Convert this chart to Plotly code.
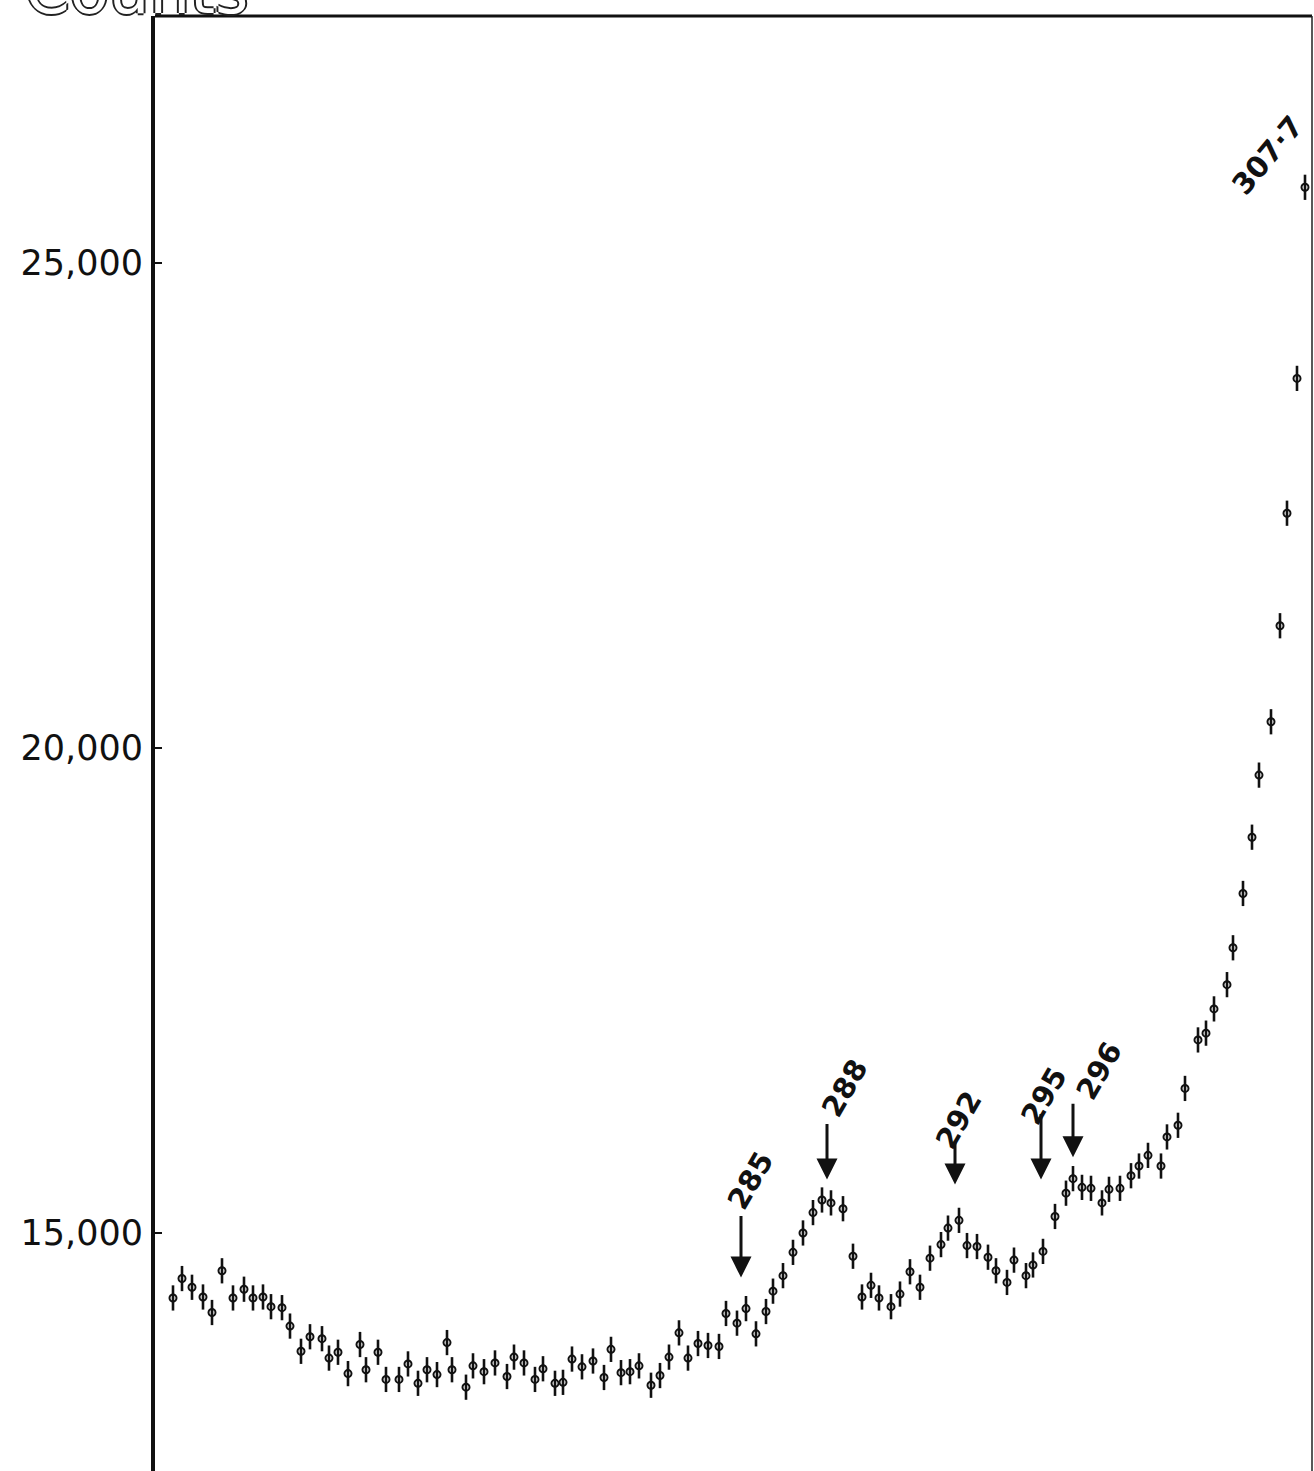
import plotly.graph_objects as go

# Scan position (arbitrary chart units) and measured counts
position = [
    1.8, 2.7, 3.7, 4.8, 5.7, 6.7, 7.8, 8.9, 9.8, 10.8, 11.6, 12.7, 13.5, 14.6, 15.5,
    16.7, 17.4, 18.3, 19.3, 20.5, 21.1, 22.3, 23.1, 24.4, 25.3, 26.3, 27.2, 28.2, 29.2,
    29.7, 31.1, 31.8, 32.9, 34.0, 35.2, 35.9, 36.9, 38.0, 38.8, 40.0, 40.8, 41.7, 42.7,
    43.8, 44.9, 45.6, 46.6, 47.5, 48.4, 49.6, 50.5, 51.4, 52.4, 53.3, 54.3, 55.3, 56.4,
    57.1, 58.2, 59.1, 60.1, 61.1, 61.8, 62.8, 63.8, 64.8, 65.8, 66.7, 67.6, 68.8, 69.8,
    70.7, 71.6, 72.4, 73.6, 74.5, 75.5, 76.5, 77.5, 78.6, 79.3, 80.4, 81.2, 82.2, 83.3,
    84.1, 85.2, 85.9, 87.1, 87.8, 88.8, 90.0, 91.1, 91.8, 92.7, 93.6, 94.7, 95.4, 96.5,
    97.6, 98.4, 99.3, 100.6, 101.2, 102.3, 103.0, 104.3, 105.1, 105.9, 107.2, 107.8,
    108.8, 109.7, 110.4, 111.6, 112.5, 113.2, 114.2, 115.0,
]
counts = [
    14330, 14530, 14440, 14340, 14180, 14610, 14330, 14420, 14330, 14340, 14240, 14230,
    14040, 13780, 13930, 13910, 13710, 13770, 13550, 13850, 13590, 13770, 13490, 13490,
    13650, 13450, 13590, 13540, 13870, 13590, 13410, 13630, 13570, 13660, 13520, 13720,
    13660, 13490, 13600, 13450, 13460, 13700, 13620, 13680, 13510, 13800, 13560, 13570,
    13630, 13430, 13530, 13720, 13970, 13710, 13860, 13840, 13830, 14170, 14070, 14220,
    13960, 14190, 14400, 14560, 14800, 15000, 15210, 15340, 15310, 15250, 14760, 14340,
    14460, 14330, 14240, 14370, 14600, 14440, 14740, 14880, 15050, 15130, 14870, 14860,
    14750, 14610, 14490, 14720, 14560, 14670, 14810, 15170, 15410, 15560, 15470, 15460,
    15310, 15450, 15460, 15590, 15690, 15800, 15690, 15990, 16110, 16490, 16990, 17060,
    17310, 17560, 17940, 18500, 19080, 19720, 20270, 21260, 22420, 23810, 25780,
]
count_error = 130

# Marked peak energies: label, arrow tip (position, counts), arrow length in px
peak_labels = ["285", "288", "292", "295", "296"]
peak_pos = [58.6, 67.2, 80.0, 88.6, 91.8]
peak_tip = [14540, 15550, 15500, 15550, 15780]
arrow_len = [63, 57, 43, 67, 55]
label_pos = [59.5, 69.0, 80.4, 88.9, 94.4]
label_counts = [15540, 16490, 16160, 16410, 16670]

edge_label = "307·7"
edge_label_pos = 111.3
edge_label_counts = 26110

y_ticks = [15000, 20000, 25000]
y_tick_text = ["15,000", "20,000", "25,000"]

fig = go.Figure()
fig.add_trace(go.Scatter(
    x=position, y=counts, mode="markers",
    marker=dict(symbol="circle-open", size=7, color="#111", line=dict(width=2)),
    error_y=dict(type="constant", value=count_error, thickness=2.6, width=0, color="#111"),
    showlegend=False,
))

label_font = dict(family="DejaVu Sans", size=29, color="#111", weight="bold")
annotations = []
for lab, px, tip, alen, lx, ly in zip(peak_labels, peak_pos, peak_tip, arrow_len, label_pos, label_counts):
    annotations.append(dict(
        x=px, y=tip, xref="x", yref="y", text="", showarrow=True,
        ax=0, ay=-alen, arrowhead=2, arrowsize=1.4, arrowwidth=3, arrowcolor="#111",
    ))
    annotations.append(dict(
        x=lx, y=ly, xref="x", yref="y", text=lab, showarrow=False, textangle=-60,
        font=label_font,
    ))
annotations.append(dict(
    x=edge_label_pos, y=edge_label_counts, xref="x", yref="y", text=edge_label,
    showarrow=False, textangle=-50, font=label_font,
))
# Axis title sitting above the frame
annotations.append(dict(
    x=0.0, y=1.0, xref="paper", yref="paper", xanchor="left", yanchor="bottom",
    xshift=-132, yshift=-14, text="Counts", showarrow=False,
    font=dict(family="DejaVu Sans", size=64, color="white",
              shadow="2px 0 0 #222, -2px 0 0 #222, 0 2px 0 #222, 0 -2px 0 #222"),
))

fig.update_layout(
    width=1314, height=1471,
    margin=dict(l=155, r=2, t=16, b=0),
    paper_bgcolor="white", plot_bgcolor="white",
    annotations=annotations,
    shapes=[
        dict(type="line", xref="paper", yref="paper", x0=0, x1=1, y0=1, y1=1,
             line=dict(color="#111", width=3)),
        dict(type="line", xref="paper", yref="paper", x0=1, x1=1, y0=0, y1=1,
             line=dict(color="#222", width=1.5)),
    ],
    xaxis=dict(range=[0, 115.7], showticklabels=False, ticks="", showgrid=False,
               zeroline=False, showline=False),
    yaxis=dict(range=[12546, 27546], tickvals=y_ticks, ticktext=y_tick_text,
               ticks="inside", ticklen=7, tickwidth=2, tickcolor="#111",
               showgrid=False, zeroline=False, showline=True, linewidth=4, linecolor="#111",
               ticklabelstandoff=1,
               tickfont=dict(family="DejaVu Sans", size=35, color="#111")),
)

fig.write_html("out.html")
